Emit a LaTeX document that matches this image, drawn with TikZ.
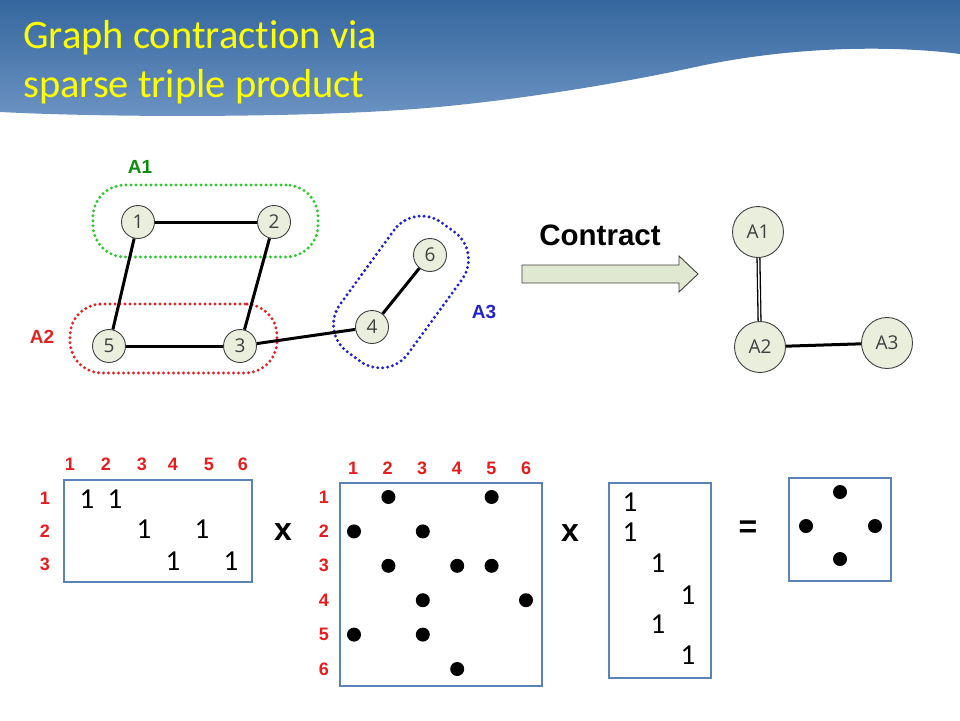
\documentclass[tikz,border=0pt]{standalone}
\usepackage{fontspec}
\setmainfont{Carlito}[Ligatures=NoCommon]
\newfontfamily\arialf{Liberation Sans}
\newfontfamily\nodef{Open Sans}
\definecolor{hdtop}{HTML}{35679E}
\definecolor{hdbot}{HTML}{6C93C3}
\definecolor{ttl}{HTML}{FFFF00}
\definecolor{nfill}{HTML}{E9EEDD}
\definecolor{ntext}{HTML}{404040}
\definecolor{boxblue}{HTML}{5A84B8}
\definecolor{lblred}{HTML}{E81C1C}
\definecolor{grn}{HTML}{2DC82D}
\definecolor{grnlbl}{HTML}{0E8A0E}
\definecolor{dred}{HTML}{E02424}
\definecolor{dblue}{HTML}{2222CC}
\definecolor{arrfill}{HTML}{E1E8D1}
\tikzset{
 gnode/.style={circle, draw=black!75, line width=0.9pt, fill=nfill, minimum size=33pt, inner sep=0pt, text=ntext, font=\nodef\fontsize{19}{20}\selectfont},
 bignode/.style={gnode, minimum size=51pt},
 edge/.style={line width=3pt, black},
 group/.style={line width=3.3pt, dash pattern=on 0pt off 5pt, line cap=round, rounded corners=32pt, draw, inner sep=0pt},
 grplbl/.style={font=\arialf\bfseries\fontsize{19}{20}\selectfont, inner sep=0pt},
 idx/.style={font=\arialf\bfseries\fontsize{18}{19}\selectfont, text=lblred, inner sep=0pt},
 one/.style={font=\fontsize{29}{30}\selectfont, inner sep=0pt},
 dotn/.style={circle, fill=black, minimum size=14pt, inner sep=0pt},
 mbox/.style={draw=boxblue, line width=2.6pt},
 op/.style={font=\arialf\bfseries\fontsize{32}{34}\selectfont, inner sep=0pt},
 ttlstyle/.style={anchor=base west, text=ttl, font=\fontsize{40.5}{46}\selectfont, inner sep=0pt},
}
\begin{document}
\begin{tikzpicture}[x=1pt,y=-1pt]
\useasboundingbox (0,0) rectangle (960,720);
\fill[white] (0,0) rectangle (960,720);
% header
\shade[top color=hdtop, bottom color=hdbot] (0,0) -- (960,0) -- (960,54)
  .. controls (900,46) and (800,45) .. (700,66)
  .. controls (600,88) and (480,105) .. (400,110)
  .. controls (300,117) and (120,118) .. (0,112) -- cycle;
\node[ttlstyle] (title1) at (23,48) {Graph contraction via};
\node[ttlstyle] (title2) at (23,97) {sparse triple product};
% groups
\node[group, draw=grn, minimum width=225pt, minimum height=72pt] (g1) at (205.5,221) {};
\node[group, draw=dred, minimum width=207pt, minimum height=69pt] (g2) at (173.5,338.5) {};
\node[group, draw=dblue, rotate=54, minimum width=160pt, minimum height=84pt, rounded corners=34pt] (g3) at (401,292) {};
\node[grplbl, text=grnlbl] (lA1) at (140,167) {A1};
\node[grplbl, text=dred] (lA2) at (42,337) {A2};
\node[grplbl, text=dblue] (lA3) at (484,312) {A3};
% graph
\node[gnode] (n1) at (138,222) {1};
\node[gnode] (n2) at (274,222) {2};
\node[gnode] (n5) at (109,346) {5};
\node[gnode] (n3) at (240,346) {3};
\node[gnode] (n4) at (372,327) {4};
\node[gnode] (n6) at (430,255) {6};
\draw[edge] (n1) -- (n2);
\draw[edge] (n1) -- (n5);
\draw[edge] (n2) -- (n3);
\draw[edge] (n5) -- (n3);
\draw[edge] (n3) -- (n4);
\draw[edge] (n4) -- (n6);
% contract arrow
\node[font=\arialf\bfseries\fontsize{29.5}{31}\selectfont, inner sep=0pt] (contract) at (600,235) {Contract};
\draw[fill=arrfill, draw=black!75, line width=0.9pt] (522,265) -- (679,265) -- (679,256) -- (698,274) -- (679,292) -- (679,283) -- (522,283) -- cycle;
% contracted graph
\node[bignode] (a1) at (758,232) {A1};
\node[bignode] (a2) at (760,347) {A2};
\node[bignode] (a3) at (887,343) {A3};
\draw[black, line width=1.3pt, double=white, double distance=1.5pt] (a1) -- (a2);
\draw[edge] (a2) -- (a3);
% matrix 1
\draw[mbox] (64,480) rectangle (252,582);
\foreach \c/\x in {1/70,2/106,3/142,4/173,5/209,6/243}{
  \node[idx] (m1c\c) at (\x,464) {\c};
}
\foreach \r/\y in {1/498,2/531,3/564}{
  \node[idx] (m1r\r) at (45,\y) {\r};
}
\foreach \i/\x/\y in {1/87/499,2/115/499,3/144/529,4/202/529,5/173/561,6/231/561}{
  \node[one] (m1e\i) at (\x,\y) {1};
}
\node[op] (times1) at (283,532) {x};
% matrix 2
\draw[mbox] (340,483) rectangle (542,686);
\foreach \c in {1,...,6}{
  \node[idx] (m2c\c) at ({353+(\c-1)*34.6},468) {\c};
  \node[idx] (m2r\c) at (324,{497+(\c-1)*34.4}) {\c};
}
\foreach \r/\c in {1/2,1/5,2/1,2/3,3/2,3/4,3/5,4/3,4/6,5/1,5/3,6/4}{
  \node[dotn] (m2d\r\c) at ({354+(\c-1)*34.4},{497+(\r-1)*34.4}) {};
}
\node[op] (times2) at (570,533) {x};
% matrix 3
\draw[mbox] (609,483) rectangle (711,678);
\foreach \i/\x/\y in {1/630/502,2/630/532,3/658/563,4/688/595,5/658/624,6/688/655}{
  \node[one] (m3e\i) at (\x,\y) {1};
}
\node[op] (eq) at (748,529) {=};
% result
\draw[mbox] (789,478) rectangle (891,581);
\node[dotn] (r1) at (840,492) {};
\node[dotn] (r2) at (806,526) {};
\node[dotn] (r3) at (875,526) {};
\node[dotn] (r4) at (840,559) {};
\end{tikzpicture}
\end{document}
